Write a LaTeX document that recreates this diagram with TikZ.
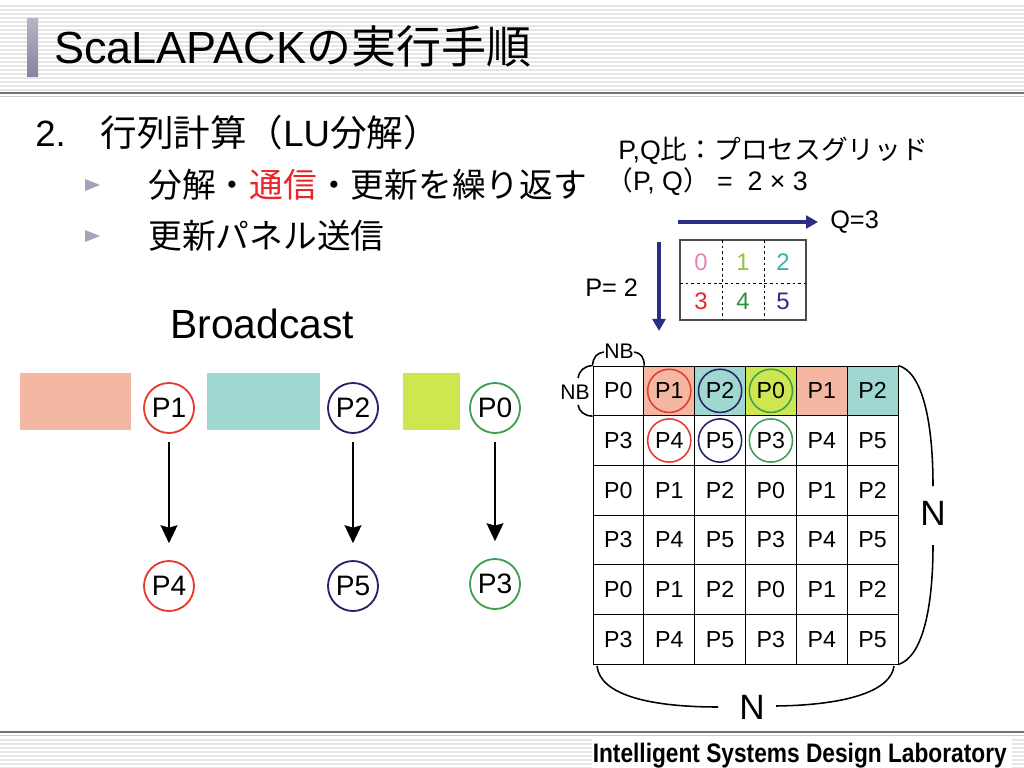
\documentclass[tikz,border=0pt]{standalone}
\usepackage{fontspec}
\setmainfont{Liberation Sans}
\newfontfamily\jpfont{Noto Sans CJK JP}
\usetikzlibrary{arrows.meta,positioning}

\definecolor{salmon}{HTML}{F4B8A2}
\definecolor{tealbox}{HTML}{A0D7D1}
\definecolor{limebox}{HTML}{CEE650}
\definecolor{redring}{HTML}{E8392E}
\definecolor{navyring}{HTML}{262466}
\definecolor{greenring}{HTML}{3E9E52}
\definecolor{arrowblue}{HTML}{2B2D86}
\definecolor{pinknum}{HTML}{E784B6}
\definecolor{limenum}{HTML}{8DC540}
\definecolor{tealnum}{HTML}{3AAEB4}
\definecolor{rednum}{HTML}{E8262B}
\definecolor{greennum}{HTML}{2F8C3E}
\definecolor{barpurple}{HTML}{85839F}
\definecolor{bulletgray}{HTML}{A3A3BA}

\newcommand{\fs}[1]{\fontsize{#1}{#1}\selectfont}

\tikzset{
  proc/.style={circle, draw=#1, line width=1.3pt, minimum size=1.25cm, inner sep=0pt, font=\fs{20}},
  cell/.style={draw, line width=0.6pt, minimum width=1.271cm, minimum height=1.242cm, inner sep=0pt, font=\fs{16.5}},
  ringline/.style={draw=#1, line width=1.1pt},
  bcast/.style={-{Stealth[length=0.45cm,width=0.42cm,inset=0.06cm]}, line width=1.4pt},
  gridarrow/.style={-{Triangle[length=0.3cm,width=0.32cm]}, line width=2.4pt, arrowblue},
  bracketline/.style={line width=1.1pt},
}

\begin{document}
\begin{tikzpicture}[x=0.025cm, y=-0.025cm]
  \useasboundingbox (0,0) rectangle (1024,768);
  % header and footer stripes
  \foreach \y in {6,10,...,90} \draw[black!10, line width=1.2pt] (0,\y) -- (1024,\y);
  \draw[black!55, line width=2pt] (0,93) -- (1024,93);
  \draw[black!20, line width=1pt] (0,96.5) -- (1024,96.5);
  \draw[black!55, line width=2pt] (0,732) -- (1024,732);
  \draw[black!20, line width=1pt] (0,735.5) -- (1024,735.5);
  \foreach \y in {740,744,...,768} \draw[black!10, line width=1.2pt] (0,\y) -- (1024,\y);
  \fill[white] (592,738) rectangle (1012,768);
  \shade[top color=barpurple!60, bottom color=barpurple] (27,19) rectangle (38,77);
  \node[anchor=base west, inner sep=0pt, font=\fs{32}] (title) at (54,64) {ScaLAPACK{\jpfont の実行手順}};
  \node[anchor=base east, inner sep=0pt, font=\fs{19}\bfseries] (lab) at (1007,762) {\scalebox{0.85}[1]{Intelligent Systems Design Laboratory}};

  % bullets
  \node[anchor=base west, inner sep=0pt, font=\fs{26}] (lu) at (35,147) {2.\hspace{0.95em}{\jpfont 行列計算（}LU{\jpfont 分解）}};
  \foreach \y in {185,236} \fill[bulletgray] (85,\y-6) -- (100,\y) -- (85,\y+6) -- cycle;
  \node[anchor=base west, inner sep=0pt, font=\fs{24}\jpfont] (item1) at (148,197) {分解・\textcolor{rednum}{通信}・更新を繰り返す};
  \node[anchor=base west, inner sep=0pt, font=\fs{24}\jpfont] (item2) at (148,248) {更新パネル送信};

  % process grid
  \node[anchor=base west, inner sep=0pt, font=\fs{19}] (pqratio) at (618,160) {P,Q{\jpfont 比：プロセスグリッド}};
  \node[anchor=base west, inner sep=0pt, font=\fs{19}] (pqsize) at (606,191) {{\jpfont （}P, Q{\jpfont ）} =\ \ 2 × 3};
  \coordinate (qtail) at (678,222);
  \coordinate (qhead) at (818,222);
  \draw[gridarrow] (qtail) -- (qhead);
  \node[anchor=west, inner sep=0pt, font=\fs{18}] (qlabel) at (830,222) {Q=3};
  \coordinate (ptail) at (659,242);
  \coordinate (phead) at (659,331);
  \draw[gridarrow] (ptail) -- (phead);
  \node[anchor=west, inner sep=0pt, font=\fs{18}] (plabel) at (585,288) {P= 2};
  \draw[black!70, line width=0.8pt] (680,240) rectangle (806,320);
  \draw[line width=0.7pt, dash pattern=on 2pt off 2pt] (722,240) -- (722,320) (764,240) -- (764,320) (680,283) -- (806,283);
  \foreach \n/\x/\y/\col in {0/701/262/pinknum, 1/743/262/limenum, 2/783/262/tealnum,
                              3/701/301/rednum, 4/743/301/greennum, 5/783/301/arrowblue}
    \node[text=\col, font=\fs{17}, inner sep=0pt] (g\n) at (\x,\y) {\n};

  % broadcast
  \node[anchor=base west, inner sep=0pt, font=\fs{29}] (bcast) at (170,338) {Broadcast};
  \fill[salmon] (20,373) rectangle (131,430);
  \fill[tealbox] (207,373) rectangle (320,430);
  \fill[limebox] (403,373) rectangle (460,430);
  \node[proc=redring] (p1) at (169,408) {P1};
  \node[proc=navyring] (p2) at (353,408) {P2};
  \node[proc=greenring] (p0) at (495,408) {P0};
  \node[proc=redring] (p4) at (169,586) {P4};
  \node[proc=navyring] (p5) at (353,586) {P5};
  \node[proc=greenring] (p3) at (495,584) {P3};
  \foreach \a/\b in {p1/p4,p2/p5,p0/p3}
    \draw[bcast, shorten <=0.2cm, shorten >=0.42cm] (\a) -- (\b);

  % block cyclic matrix
  \foreach \r in {0,...,5} {
    \foreach \c/\f in {0/white,1/salmon,2/tealbox,3/limebox,4/salmon,5/tealbox} {
      \pgfmathtruncatemacro\pid{3*mod(\r,2)+mod(\c,3)}
      \ifnum\r=0 \def\cellfill{\f}\else\def\cellfill{white}\fi
      \node[cell, fill=\cellfill] (m-\r-\c) at ({593+50.83*(\c+0.5)},{366+49.67*(\r+0.5)}) {P\pid};
    }
  }
  \foreach \c/\col in {1/redring,2/navyring,3/greenring} {
    \draw[ringline=\col] (m-0-\c) circle (0.54cm);
    \draw[ringline=\col] (m-1-\c) circle (0.54cm);
  }

  % NB and N brackets
  \draw[bracketline] (m-0-0.north west) .. controls (593,357) and (597,353) .. (604,352);
  \draw[bracketline] (634,352) .. controls (641,353) and (644,357) .. (m-0-0.north east);
  \node[font=\fs{15}, inner sep=0pt] (nbtop) at (619,351) {NB};
  \draw[bracketline] (m-0-0.north west) .. controls (584,366) and (579,371) .. (578,378);
  \draw[bracketline] (578,405) .. controls (579,411) and (584,416) .. (m-0-0.south west);
  \node[font=\fs{15}, inner sep=0pt] (nbleft) at (575,392) {NB};
  \draw[bracketline] (m-0-5.north east) .. controls (922,372) and (933,420) .. (933,486);
  \draw[bracketline] (933,545) .. controls (933,610) and (922,657) .. (m-5-5.south east);
  \node[font=\fs{25}, inner sep=0pt] (nright) at (933,513) {N};
  \draw[bracketline] (597,666) .. controls (600,695) and (650,707) .. (718,707);
  \draw[bracketline] (776,706) .. controls (850,705) and (891,690) .. (894,666);
  \node[font=\fs{25}, inner sep=0pt] (nbottom) at (752,707) {N};
\end{tikzpicture}
\end{document}
